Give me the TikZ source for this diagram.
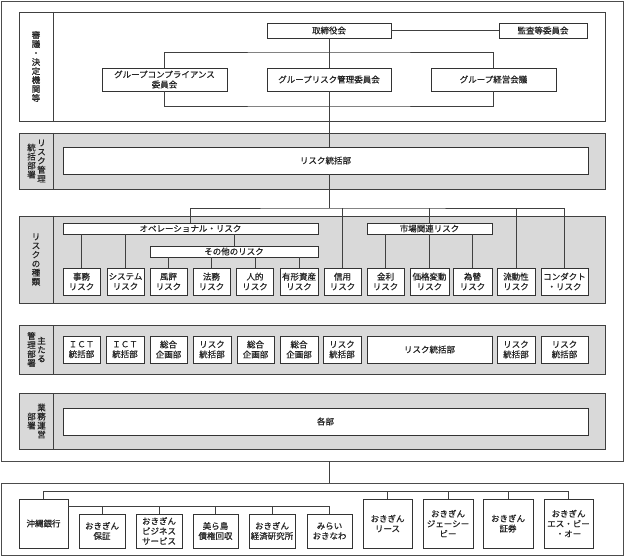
\documentclass[tikz,border=0pt]{standalone}
\usepackage{fontspec}
\setmainfont[FakeBold=0.6]{Noto Sans CJK JP}
\usetikzlibrary{positioning,calc}
\newcommand{\bxfont}{\fontsize{8.5}{10}\selectfont}
\newcommand{\lbfont}{\fontsize{8.5}{9}\selectfont}
\tikzset{box/.style={draw=black!80,fill=white,line width=0.8pt,align=center,inner sep=0pt,
           minimum width=37pt,minimum height=27pt,font=\bxfont,text=black!85},
         sect/.style={draw=black!75,fill=gray!30,line width=0.8pt},
         frame/.style={draw=black!70,line width=0.8pt,inner sep=0pt},
         lbl/.style={align=center,inner sep=0pt,font=\lbfont,text=black!85},
         conn/.style={draw=black!75,line width=0.7pt}
}

\begin{document}
\begin{tikzpicture}[x=1pt,y=-1pt]
\useasboundingbox (0,0) rectangle (624,556);

% frames
\node[frame,minimum width=622pt,minimum height=460pt] (upper) at (312,231) {};
\node[frame,minimum width=622pt,minimum height=72pt] (lower) at (312,519) {};

% sections
\draw[sect,fill=white] (19,12) rectangle (605,121);  \draw[sect] (53,12) -- (53,121);
\draw[sect] (19,133) rectangle (605,189); \draw[sect] (53,133) -- (53,189);
\draw[sect] (19,216) rectangle (605,303); \draw[sect] (53,216) -- (53,303);
\draw[sect] (19,325) rectangle (605,374); \draw[sect] (53,325) -- (53,374);
\draw[sect] (19,393) rectangle (605,449); \draw[sect] (53,393) -- (53,449);

\node[lbl] (l1) at (36,66.5) {審\\議\\・\\決\\定\\機\\関\\等};
\node[lbl] (l2a) at (41.5,161) {リ\\ス\\ク\\管\\理};
\node[lbl] (l2b) at (31.5,161) {統\\括\\部\\署};
\node[lbl] (l3) at (36,259.5) {リ\\ス\\ク\\の\\種\\類};
\node[lbl] (l4a) at (41.5,349.5) {主\\た\\る};
\node[lbl] (l4b) at (31.5,349.5) {管\\理\\部\\署};
\node[lbl] (l5a) at (41.5,421) {業\\務\\運\\営};
\node[lbl] (l5b) at (31.5,421) {部\\署};

% decision bodies
\node[box,minimum width=124pt,minimum height=15pt] (board) at (329,30.5) {取締役会};
\node[box,minimum width=88pt,minimum height=15pt] (audit) at (543,30.5) {監査等委員会};
\node[box,minimum width=125pt,minimum height=23pt] (comp) at (164.5,79.5) {グループコンプライアンス\\委員会};
\node[box,minimum width=124pt,minimum height=23pt] (rmc) at (329,79.5) {グループリスク管理委員会};
\node[box,minimum width=125pt,minimum height=23pt] (mgmt) at (493.5,79.5) {グループ経営会議};

% risk management dept
\node[box,minimum width=525pt] (riskdept) at (325.5,160.5) {リスク統括部};

% risk types
\node[box,minimum width=255pt,minimum height=11pt] (op) at (190.5,228.5) {オペレーショナル・リスク};
\node[box,minimum width=168pt,minimum height=11pt] (other) at (234,251.5) {その他のリスク};
\node[box,minimum width=125pt,minimum height=11pt] (market) at (429.5,228.5) {市場関連リスク};
\node[box] (jimu) at (81.5,281.5) {事務\\リスク};
\node[box] (system) at (125.5,281.5) {システム\\リスク};
\node[box] (fuhyo) at (168.5,281.5) {風評\\リスク};
\node[box] (homu) at (211.5,281.5) {法務\\リスク};
\node[box] (jinteki) at (255,281.5) {人的\\リスク};
\node[box,minimum width=38pt] (yukei) at (299,281.5) {有形資産\\リスク};
\node[box] (shinyo) at (342.5,281.5) {信用\\リスク};
\node[box] (kinri) at (385.5,281.5) {金利\\リスク};
\node[box,minimum width=39pt] (kakaku) at (429.5,281.5) {価格変動\\リスク};
\node[box,minimum width=39pt] (kawase) at (472.5,281.5) {為替\\リスク};
\node[box,minimum width=38pt] (ryudo) at (516,281.5) {流動性\\リスク};
\node[box,minimum width=47pt] (conduct) at (564.5,281.5) {コンダクト\\・リスク};

% main departments
\node[box] (ict1) at (81.5,349.5) {ＩＣＴ\\統括部};
\node[box,minimum width=38pt] (ict2) at (125,349.5) {ＩＣＴ\\統括部};
\node[box] (plan1) at (168.5,349.5) {総合\\企画部};
\node[box,minimum width=38pt] (rsk1) at (212,349.5) {リスク\\統括部};
\node[box] (plan2) at (255.5,349.5) {総合\\企画部};
\node[box,minimum width=38pt] (plan3) at (299,349.5) {総合\\企画部};
\node[box,minimum width=38pt] (rsk2) at (342,349.5) {リスク\\統括部};
\node[box,minimum width=125pt] (rskw) at (429.5,349.5) {リスク統括部};
\node[box,minimum width=38pt] (rsk3) at (516,349.5) {リスク\\統括部};
\node[box,minimum width=47pt] (rsk4) at (564.5,349.5) {リスク\\統括部};

% business depts
\node[box,minimum width=525pt] (kakubu) at (325.5,421.5) {各部};

% group companies
\node[box,minimum width=49pt,minimum height=49pt] (bank) at (43.5,523.5) {沖縄銀行};
\node[box,minimum width=46pt,minimum height=34pt] (hosho) at (102,531) {おきぎん\\保証};
\node[box,minimum width=46pt,minimum height=34pt] (bizsvc) at (159,531) {おきぎん\\ビジネス\\サービス};
\node[box,minimum width=45pt,minimum height=34pt] (churashima) at (215.5,531) {美ら島\\債権回収};
\node[box,minimum width=46pt,minimum height=34pt] (keizai) at (272,531) {おきぎん\\経済研究所};
\node[box,minimum width=45pt,minimum height=34pt] (mirai) at (329.5,531) {みらい\\おきなわ};
\node[box,minimum width=49pt,minimum height=49pt] (lease) at (387.5,523.5) {おきぎん\\リース};
\node[box,minimum width=50pt,minimum height=49pt] (jcb) at (448,523.5) {おきぎん\\ジェーシー\\ビー};
\node[box,minimum width=50pt,minimum height=49pt] (shoken) at (508,523.5) {おきぎん\\証券};
\node[box,minimum width=49pt,minimum height=49pt] (sbo) at (568.5,523.5) {おきぎん\\エス・ビー\\・オー};

\coordinate (brtop) at (329,52);
\coordinate (brbot) at (329,106);
\coordinate (branch) at (329,208);
\coordinate (gtop) at (43.5,491);
\coordinate (gmid) at (68,506);

% connectors
\draw[conn] (board) -- (audit);
\draw[conn] (board) -- (rmc);
\draw[conn] (comp.north) |- (brtop) -| (mgmt.north);
\draw[conn] (comp.south) |- (brbot) -| (mgmt.south);
\draw[conn] (rmc.south) -- (rmc.south |- riskdept.north);
\draw[conn] (branch |- riskdept.south) -- (branch);
\draw[conn] (op.north) |- (branch) -| (conduct.north);
\foreach \n in {shinyo,market,ryudo}
  \draw[conn] (\n.north) -- (\n.north |- branch);
\draw[conn] (other.north |- op.south) -- (other.north);
\foreach \n in {jimu,system}
  \draw[conn] (\n.north) -- (\n.north |- op.south);
\foreach \n in {fuhyo,homu,jinteki,yukei}
  \draw[conn] (\n.north) -- (\n.north |- other.south);
\foreach \n in {kinri,kakaku,kawase}
  \draw[conn] (\n.north) -- (\n.north |- market.south);
\draw[conn] (board |- upper.south) -- (board |- lower.north);
\draw[conn] (bank.north) -- (gtop) -| (sbo.north);
\foreach \n in {lease,jcb,shoken}
  \draw[conn] (\n.north) -- (\n.north |- gtop);
\draw[conn] (gmid) -| (mirai.north);
\foreach \n in {hosho,bizsvc,churashima,keizai}
  \draw[conn] (\n.north) -- (\n.north |- gmid);

\end{tikzpicture}
\end{document}
